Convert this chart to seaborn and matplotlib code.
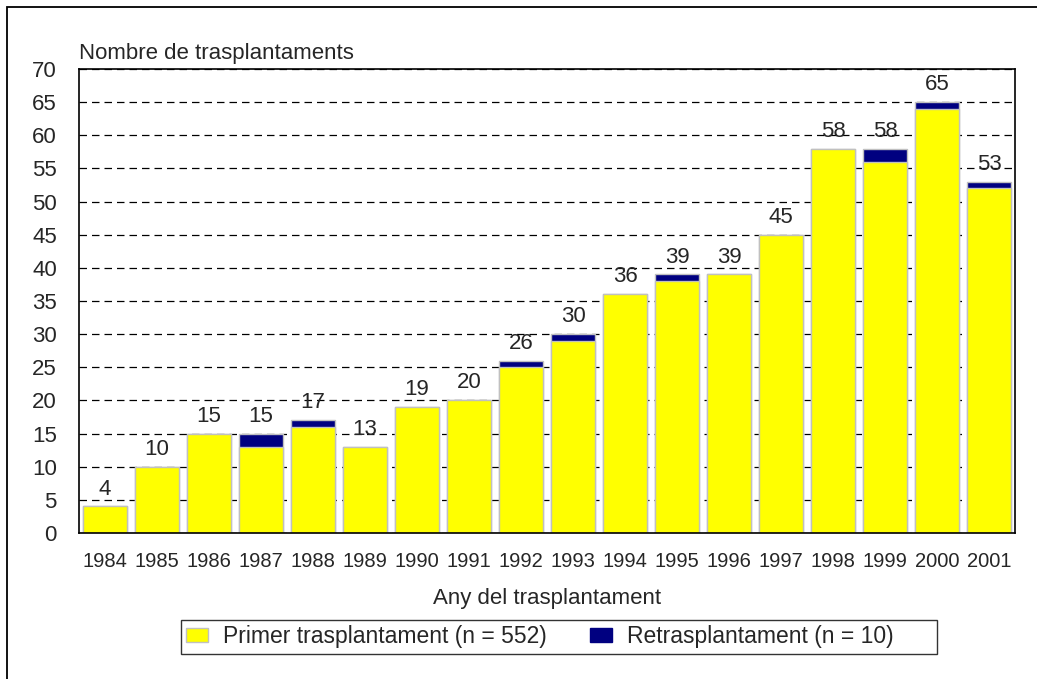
import numpy as np
import pandas as pd
import matplotlib
matplotlib.use("Agg")
import matplotlib.pyplot as plt
import matplotlib.patches as mpatches
import seaborn as sns

# Data
years = ['1984', '1985', '1986', '1987', '1988', '1989', '1990', '1991', '1992',
         '1993', '1994', '1995', '1996', '1997', '1998', '1999', '2000', '2001']
primer = [4, 10, 15, 13, 16, 13, 19, 20, 25, 29, 36, 38, 39, 45, 58, 56, 64, 52]
retras = [0, 0, 0, 2, 1, 0, 0, 0, 1, 1, 0, 1, 0, 0, 0, 2, 1, 1]
yticks = list(range(0, 75, 5))

df = pd.DataFrame({'year': years, 'primer': primer, 'retras': retras})
df['total'] = df['primer'] + df['retras']

sns.set_style("white")
plt.rcParams['font.family'] = ['Liberation Sans', 'DejaVu Sans']

fig = plt.figure(figsize=(10.37, 6.79), dpi=100)
ax = fig.add_axes([0.0762, 0.2150, 0.9026, 0.6834])

# Total (navy) underneath, first transplant (yellow) on top
sns.barplot(data=df, x='year', y='total', color='#000080', saturation=1,
            width=0.86, edgecolor='#c0c0c0', linewidth=1, ax=ax)
sns.barplot(data=df, x='year', y='primer', color='#ffff00', saturation=1,
            width=0.86, edgecolor='#c0c0c0', linewidth=1, ax=ax)

ax.bar_label(ax.containers[0], labels=[str(v) for v in df['total']],
             padding=5, fontsize=16, zorder=5)

ax.set_ylim(0, 70)
ax.set_xlim(-0.5, len(years) - 0.5)
ax.set_yticks(yticks)
ax.set_yticklabels([str(t) for t in yticks])
ax.tick_params(axis='y', length=0, labelsize=16, pad=16)
ax.tick_params(axis='x', length=0, labelsize=14.5, pad=14)

# dashed grid behind the bars
ax.set_axisbelow(True)
ax.yaxis.grid(True, color='black', lw=0.9, ls=(0, (6, 4)))
ax.xaxis.grid(False)

for s in ax.spines.values():
    s.set_color('black')
    s.set_linewidth(1.2)

ax.set_ylabel('')
ax.set_xlabel('Any del trasplantament', fontsize=16, labelpad=12)
fig.text(79 / 1037, 1 - 53 / 679, 'Nombre de trasplantaments', fontsize=16,
         ha='left', va='center')

handles = [mpatches.Patch(facecolor='#ffff00', edgecolor='#c0c0c0', label='Primer trasplantament (n = 552)'),
           mpatches.Patch(facecolor='#000080', edgecolor='#000080', label='Retrasplantament (n = 10)      ')]
leg = fig.legend(handles=handles, loc='center', bbox_to_anchor=(559 / 1037, 1 - 637 / 679),
                 ncol=2, fontsize=16.5, frameon=True, fancybox=False, edgecolor='black',
                 handlelength=0.95, handleheight=0.55, columnspacing=1.9, borderpad=0.25,
                 handletextpad=0.65, borderaxespad=0)
leg.get_frame().set_linewidth(1.0)

# outer frame of the picture
fig.patches.append(mpatches.Rectangle((7 / 1037, -0.1), 1.2, 1 - 7 / 679 + 0.1,
                                      transform=fig.transFigure, fill=False,
                                      edgecolor='black', lw=1.3))

fig.savefig('out.png', dpi=100)
